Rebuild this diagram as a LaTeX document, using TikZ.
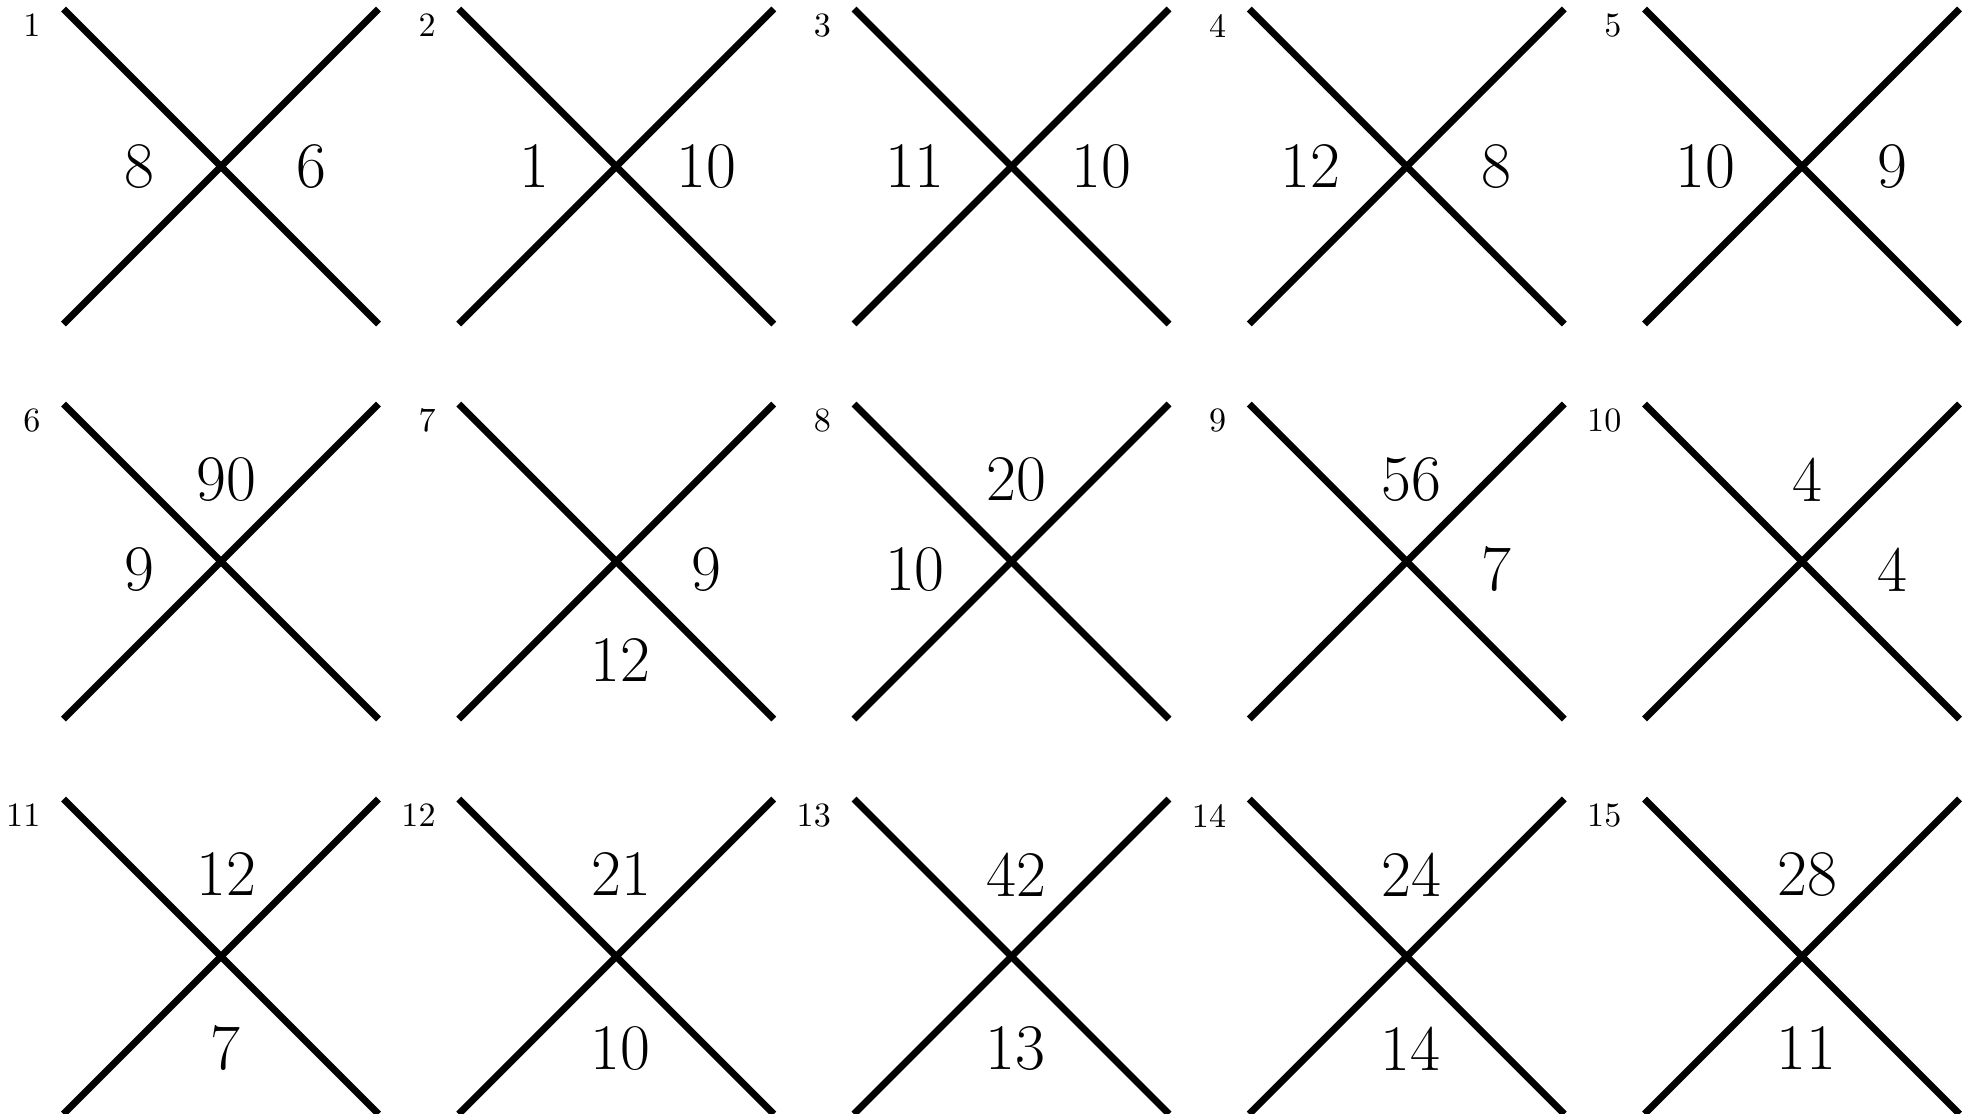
\documentclass[tikz,border=0pt]{standalone}

\newcommand*{\arm}{1.575}
\newcommand*{\gapx}{3.9525}
\newcommand*{\gapy}{3.95}

\tikzset{
	bar/.style={line width=2pt},
	num/.style={font=\fontsize{18.5}{22}\selectfont, inner sep=0pt},
	idx/.style={font=\fontsize{9.7}{12}\selectfont, inner sep=0pt, anchor=east},
}

\begin{document}
\begin{tikzpicture}

	\useasboundingbox (0,0) rectangle (19.73,-11.14);

	% number / column / row / top / left / right / bottom
	\foreach \n/\c/\r/\tp/\lf/\rt/\bt in {
	  1/0/0/{}/8/6/{}, 2/1/0/{}/1/10/{}, 3/2/0/{}/11/10/{}, 4/3/0/{}/12/8/{}, 5/4/0/{}/10/9/{},
	  6/0/1/90/9/{}/{}, 7/1/1/{}/{}/9/12, 8/2/1/20/10/{}/{}, 9/3/1/56/{}/7/{}, 10/4/1/4/{}/4/{},
	  11/0/2/12/{}/{}/7, 12/1/2/21/{}/{}/10, 13/2/2/42/{}/{}/13, 14/3/2/24/{}/{}/14, 15/4/2/28/{}/{}/11}
	{
	  \coordinate (c\n) at ({2.21+\c*\gapx},{-1.665-\r*\gapy});
	  \draw[bar] (c\n) ++({-\arm},{\arm}) -- ++({2*\arm},{-2*\arm});
	  \draw[bar] (c\n) ++({-\arm},{-\arm}) -- ++({2*\arm},{2*\arm});

	  \node[idx] (i\n) at ([shift={(-1.80,1.41)}]c\n) {\n};
	  \node[num] (t\n) at ([shift={(0.05,0.82)}]c\n) {\tp};
	  \node[num, anchor=east] (l\n) at ([shift={(-0.66,{-0.08*\r})}]c\n) {\lf};
	  \node[num] (r\n) at ([shift={(0.90,{-0.08*\r})}]c\n) {\rt};
	  \node[num] (b\n) at ([shift={(0.04,{-0.92-0.07*(2-\r)})}]c\n) {\bt};
	}

\end{tikzpicture}
\end{document}
